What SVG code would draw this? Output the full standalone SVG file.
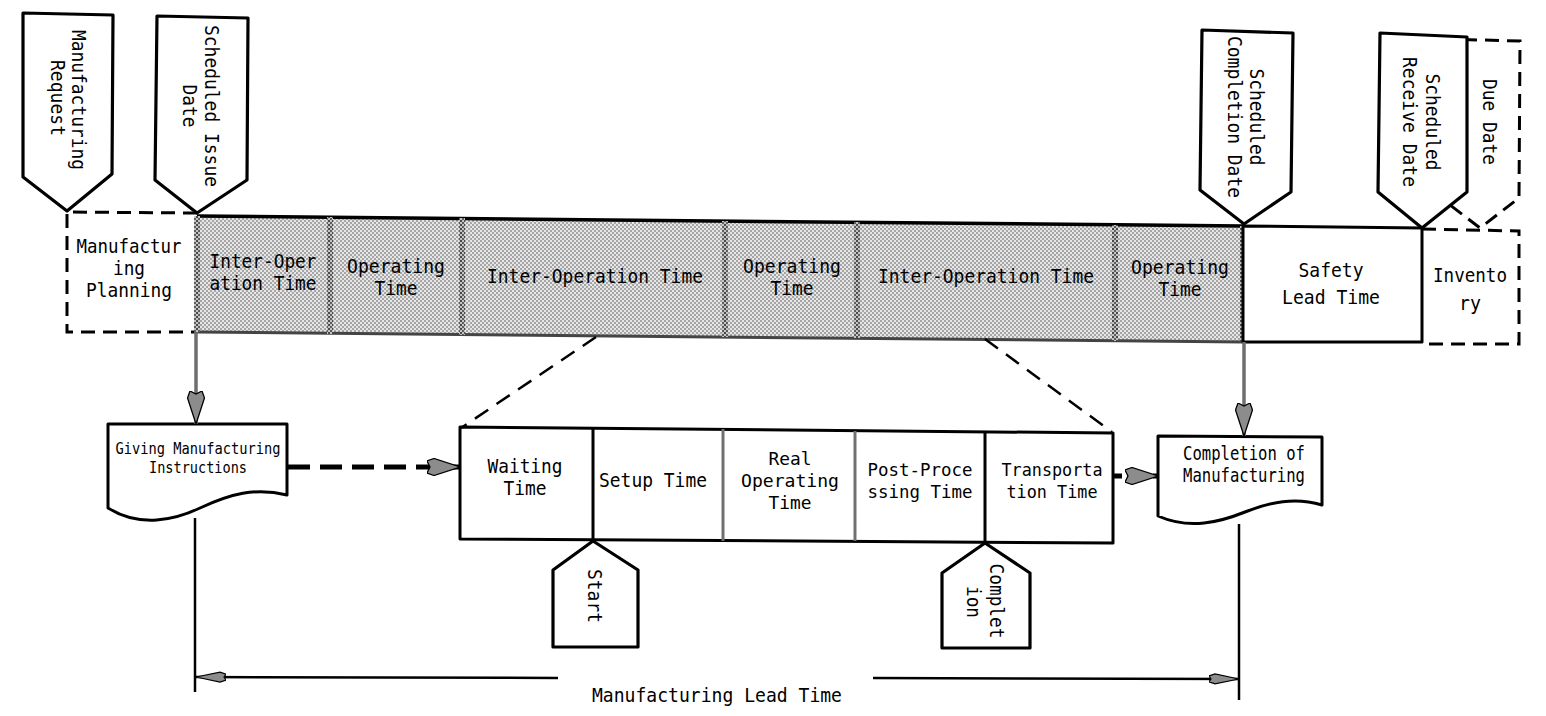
<svg xmlns="http://www.w3.org/2000/svg" width="1546" height="716" viewBox="0 0 1546 716">
<style>
text{font-family:"DejaVu Sans Mono","Liberation Mono",monospace;font-size:20px;fill:#000}
.c{text-anchor:middle}
.sm{font-size:16px}
.md{font-size:18px}
.ln{fill:none;stroke:#000;stroke-width:3}
.box{fill:#fff;stroke:#000;stroke-width:3;stroke-linejoin:round}
.dash{fill:none;stroke:#000;stroke-width:3;stroke-dasharray:14 8}
.dashw{fill:#fff;stroke:#000;stroke-width:3;stroke-dasharray:14 8}
.pent{fill:#fff;stroke:#000;stroke-width:3.2;stroke-linejoin:round}
.stripe{fill:url(#sp)}
.gline{fill:none;stroke:#6e6e6e;stroke-width:3.5}
.spk{fill:none;stroke:#707070;stroke-width:3}
</style>
<defs>
<pattern id="ht" width="4" height="4" patternUnits="userSpaceOnUse">
<rect width="4" height="4" fill="#e6e6e6"/>
<rect width="2" height="2" fill="#a6a6a6"/>
<rect x="2" y="2" width="2" height="2" fill="#a6a6a6"/>
</pattern>
<pattern id="sp" width="4" height="4" patternUnits="userSpaceOnUse">
<rect width="4" height="4" fill="#c4c4c4"/>
<rect width="2" height="2" fill="#4a4a4a"/>
<rect x="2" y="2" width="2" height="2" fill="#5e5e5e"/>
</pattern>
<marker id="dart" viewBox="0 -9 33 18" refX="33" refY="0" markerWidth="33" markerHeight="18" markerUnits="userSpaceOnUse" orient="auto-start-reverse">
<path d="M33,0 L7,-8.5 L0,-6 L3,0 L0,6 L7,8.5 Z" fill="#8c8c8c" stroke="#000" stroke-width="1.3"/>
</marker>
<marker id="dartS" viewBox="0 -6 30 12" refX="30" refY="0" markerWidth="30" markerHeight="12" markerUnits="userSpaceOnUse" orient="auto-start-reverse">
<path d="M30,0 L6,-5 L0,-3 L2,0 L0,3 L6,5 Z" fill="#8c8c8c" stroke="#000" stroke-width="1.2"/>
</marker>
</defs>

<!-- Top band -->
<g id="manufacturing-planning">
<path class="dash" d="M197,213 L67,212 L67,332 L197,332"/>
<text class="c" x="129" y="253" textLength="105" lengthAdjust="spacingAndGlyphs">Manufactur</text>
<text class="c" x="129" y="275" textLength="32" lengthAdjust="spacingAndGlyphs">ing</text>
<text class="c" x="129" y="297" textLength="86" lengthAdjust="spacingAndGlyphs">Planning</text>
</g>

<g id="gray-band">
<polygon points="197,216 1243,226 1243,342 197,332" fill="url(#ht)"/>
<line x1="197" y1="216" x2="1243" y2="226" stroke="#000" stroke-width="3.5"/>
<line x1="197" y1="332" x2="1243" y2="342" stroke="#444" stroke-width="3"/>
<polygon class="stripe" points="194,216 200,216 200,332 194,332"/>
<polygon class="stripe" points="327,217 333,217 333,334 327,334"/>
<polygon class="stripe" points="459,218 465,218 465,335 459,335"/>
<polygon class="stripe" points="722,221 728,221 728,337 722,337"/>
<polygon class="stripe" points="854,222 860,222 860,338 854,338"/>
<polygon class="stripe" points="1112,225 1118,225 1118,341 1112,341"/>
<polygon class="stripe" points="1240,226 1246,226 1246,342 1240,342"/>
</g>

<g id="inter-operation-1">
<text class="c" x="263" y="268" textLength="107" lengthAdjust="spacingAndGlyphs">Inter-Oper</text>
<text class="c" x="263" y="290" textLength="107" lengthAdjust="spacingAndGlyphs">ation Time</text>
</g>
<g id="operating-1">
<text class="c" x="396" y="273" textLength="98" lengthAdjust="spacingAndGlyphs">Operating</text>
<text class="c" x="396" y="295" textLength="43" lengthAdjust="spacingAndGlyphs">Time</text>
</g>
<g id="inter-operation-2">
<text class="c" x="595" y="283" textLength="216" lengthAdjust="spacingAndGlyphs">Inter-Operation Time</text>
</g>
<g id="operating-2">
<text class="c" x="792" y="273" textLength="98" lengthAdjust="spacingAndGlyphs">Operating</text>
<text class="c" x="792" y="295" textLength="43" lengthAdjust="spacingAndGlyphs">Time</text>
</g>
<g id="inter-operation-3">
<text class="c" x="986" y="283" textLength="216" lengthAdjust="spacingAndGlyphs">Inter-Operation Time</text>
</g>
<g id="operating-3">
<text class="c" x="1180" y="274" textLength="98" lengthAdjust="spacingAndGlyphs">Operating</text>
<text class="c" x="1180" y="296" textLength="43" lengthAdjust="spacingAndGlyphs">Time</text>
</g>

<g id="safety-lead-time">
<polygon class="box" points="1243,226 1422,228 1422,342 1243,342"/>
<text class="c" x="1331" y="277" textLength="65" lengthAdjust="spacingAndGlyphs">Safety</text>
<text class="c" x="1331" y="304" textLength="98" lengthAdjust="spacingAndGlyphs">Lead Time</text>
</g>

<g id="inventory">
<path class="dash" d="M1422,229 L1519,231 L1519,344 L1422,344"/>
<text class="c" x="1470" y="282" textLength="74" lengthAdjust="spacingAndGlyphs">Invento</text>
<text class="c" x="1470" y="310" textLength="22" lengthAdjust="spacingAndGlyphs">ry</text>
</g>

<!-- Top markers -->
<g id="manufacturing-request">
<polygon class="pent" points="23,13 113,15 112,174 67,211 23,177"/>
<text class="c" transform="translate(79,100) rotate(90)" y="7" textLength="140" lengthAdjust="spacingAndGlyphs">Manufacturing</text>
<text class="c" transform="translate(58,98) rotate(90)" y="7" textLength="76" lengthAdjust="spacingAndGlyphs">Request</text>
</g>

<g id="scheduled-issue-date">
<polygon class="pent" points="157,16 248,18 247,180 197,213 155,180"/>
<text class="c" transform="translate(212,106) rotate(90)" y="7" textLength="162" lengthAdjust="spacingAndGlyphs">Scheduled Issue</text>
<text class="c" transform="translate(190,106) rotate(90)" y="7" textLength="43" lengthAdjust="spacingAndGlyphs">Date</text>
</g>

<g id="scheduled-completion-date">
<polygon class="pent" points="1202,30 1293,33 1291,192 1244,224 1200,190"/>
<text class="c" transform="translate(1257,117) rotate(90)" y="7" textLength="97" lengthAdjust="spacingAndGlyphs">Scheduled</text>
<text class="c" transform="translate(1235,117) rotate(90)" y="7" textLength="162" lengthAdjust="spacingAndGlyphs">Completion Date</text>
</g>

<g id="due-date">
<polygon class="dashw" points="1441,39 1520,41 1519,198 1480,228 1441,198"/>
<text class="c" transform="translate(1490,122) rotate(90)" y="7" textLength="86" lengthAdjust="spacingAndGlyphs">Due Date</text>
</g>

<g id="scheduled-receive-date">
<polygon class="pent" points="1380,33 1467,37 1467,192 1422,228 1378,192"/>
<text class="c" transform="translate(1433,122) rotate(90)" y="7" textLength="97" lengthAdjust="spacingAndGlyphs">Scheduled</text>
<text class="c" transform="translate(1410,122) rotate(90)" y="7" textLength="130" lengthAdjust="spacingAndGlyphs">Receive Date</text>
</g>

<!-- Lower row -->
<g id="giving-manufacturing-instructions">
<path class="box" d="M108,424 L287,424 L287,495 C255,487 230,494 200,508 C175,520 140,528 108,508 Z"/>
<text class="c sm" x="198" y="454" textLength="165" lengthAdjust="spacingAndGlyphs">Giving Manufacturing</text>
<text class="c sm" x="198" y="473" textLength="98" lengthAdjust="spacingAndGlyphs">Instructions</text>
</g>

<g id="operation-detail">
<polygon class="box" points="460,427 1113,433 1113,543 460,539"/>
<line class="ln" x1="593" y1="428" x2="593" y2="540"/>
<line class="spk" x1="723" y1="429" x2="723" y2="541"/>
<line class="spk" x1="855" y1="431" x2="855" y2="541"/>
<line class="ln" x1="985" y1="432" x2="985" y2="542"/>
</g>
<g id="waiting-time">
<text class="c" x="525" y="473" textLength="75" lengthAdjust="spacingAndGlyphs">Waiting</text>
<text class="c" x="525" y="495" textLength="43" lengthAdjust="spacingAndGlyphs">Time</text>
</g>
<g id="setup-time">
<text class="c" x="653" y="487" textLength="108" lengthAdjust="spacingAndGlyphs">Setup Time</text>
</g>
<g id="real-operating-time">
<text class="c md" x="790" y="465" textLength="43" lengthAdjust="spacingAndGlyphs">Real</text>
<text class="c md" x="790" y="487" textLength="98" lengthAdjust="spacingAndGlyphs">Operating</text>
<text class="c md" x="790" y="509" textLength="43" lengthAdjust="spacingAndGlyphs">Time</text>
</g>
<g id="post-processing-time">
<text class="c md" x="920" y="476" textLength="105" lengthAdjust="spacingAndGlyphs">Post-Proce</text>
<text class="c md" x="920" y="498" textLength="105" lengthAdjust="spacingAndGlyphs">ssing Time</text>
</g>
<g id="transportation-time">
<text class="c md" x="1052" y="476" textLength="101" lengthAdjust="spacingAndGlyphs">Transporta</text>
<text class="c md" x="1052" y="498" textLength="91" lengthAdjust="spacingAndGlyphs">tion Time</text>
</g>

<g id="start">
<polygon class="pent" points="553,570 593,541 638,570 638,647 553,647"/>
<text class="c" transform="translate(595,596) rotate(90)" y="7" textLength="54" lengthAdjust="spacingAndGlyphs">Start</text>
</g>

<g id="completion">
<polygon class="pent" points="942,573 985,543 1030,573 1030,648 942,648"/>
<text class="c" transform="translate(997,601) rotate(90)" y="7" textLength="75" lengthAdjust="spacingAndGlyphs">Complet</text>
<text class="c" transform="translate(974,602) rotate(90)" y="7" textLength="32" lengthAdjust="spacingAndGlyphs">ion</text>
</g>

<g id="completion-of-manufacturing">
<path class="box" d="M1158,436 L1322,437 L1322,505 C1295,497 1270,502 1245,512 C1220,522 1190,530 1158,516 Z"/>
<text class="c" x="1244" y="460" font-size="17" textLength="122" lengthAdjust="spacingAndGlyphs">Completion of</text>
<text class="c" x="1244" y="482" font-size="17" textLength="122" lengthAdjust="spacingAndGlyphs">Manufacturing</text>
</g>

<g id="lead-time-label">
<text class="c" x="717" y="702" textLength="250" lengthAdjust="spacingAndGlyphs">Manufacturing Lead Time</text>
</g>

<!-- Connectors -->
<g id="connectors">
<line class="gline" x1="196" y1="332" x2="196" y2="424" marker-end="url(#dart)"/>
<line class="gline" x1="1244" y1="342" x2="1244" y2="436" marker-end="url(#dart)"/>
<line x1="288" y1="467" x2="460" y2="467" stroke="#000" stroke-width="5" stroke-dasharray="22 10" marker-end="url(#dart)"/>
<line x1="1114" y1="476" x2="1158" y2="476" stroke="#000" stroke-width="5" stroke-dasharray="8 5" marker-end="url(#dart)"/>
<line x1="596" y1="337" x2="461" y2="428" stroke="#000" stroke-width="2.5" stroke-dasharray="16 10"/>
<line x1="985" y1="339" x2="1112" y2="432" stroke="#000" stroke-width="2.5" stroke-dasharray="16 10"/>
<line x1="195" y1="518" x2="195" y2="692" stroke="#000" stroke-width="2.5"/>
<line x1="1239" y1="524" x2="1239" y2="700" stroke="#000" stroke-width="2.5"/>
<line x1="196" y1="677" x2="558" y2="678" stroke="#000" stroke-width="2.5" marker-start="url(#dartS)"/>
<line x1="873" y1="678" x2="1239" y2="679" stroke="#000" stroke-width="2.5" marker-end="url(#dartS)"/>
</g>
</svg>
